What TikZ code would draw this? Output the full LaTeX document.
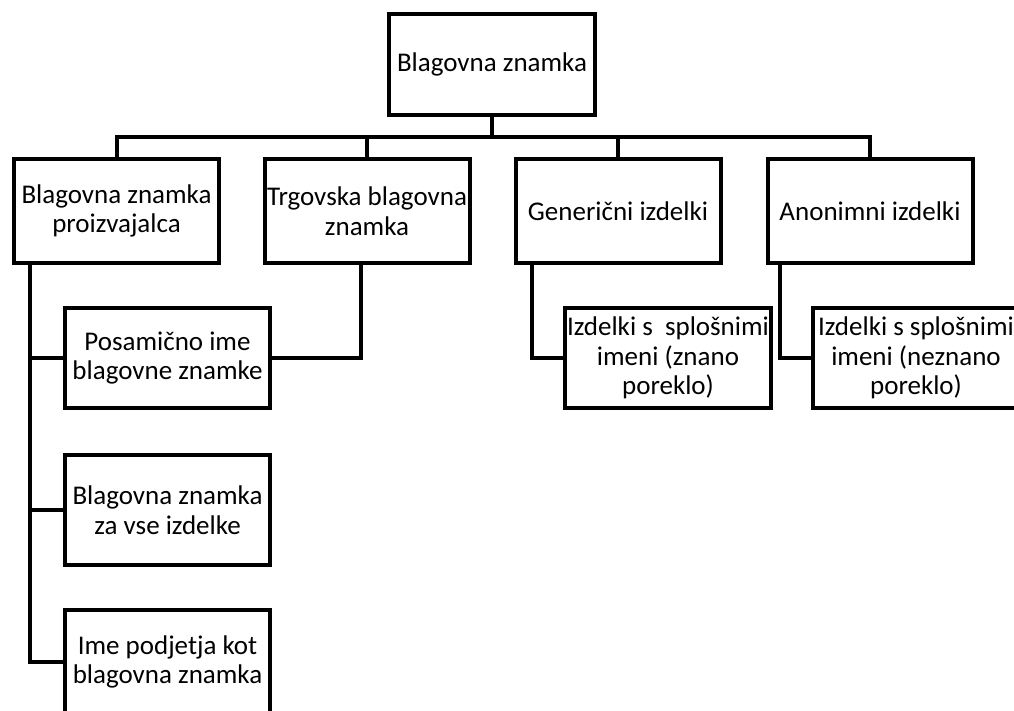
\documentclass[tikz,border=0pt]{standalone}
\usepackage{fontspec}
\setmainfont{Carlito}
\usepackage{tikz}
\usetikzlibrary{positioning, calc}
\tikzset{
  bbox/.style  = {rectangle, draw, line width=2pt, align=center,
                  font=\fontsize{13.5pt}{14.8pt}\selectfont, inner sep=0pt,
                  minimum width=102.5pt, minimum height=52pt},
  conn/.style  = {line width=2pt, line cap=rect},
}

\begin{document}
\begin{tikzpicture}[x=0.5pt, y=-0.5pt]
  \useasboundingbox (0,0) rectangle (1014,711);

  % Layer 1 - root
  \node[bbox, minimum width=103pt, minimum height=50.5pt] (znamka) at (492,64.5)
    {Blagovna znamka};

  % Layer 2 - types
  \node[bbox] (proiz) at (116.5,211) {Blagovna znamka\\proizvajalca};
  \node[bbox] (trgov) at (367,211)   {Trgovska blagovna\\znamka};
  \node[bbox] (gener) at (618,211)   {Generični izdelki};
  \node[bbox] (anon)  at (870,211)   {Anonimni izdelki};

  % Layer 3 - sub-types
  \node[bbox, minimum height=50pt] (posam) at (167.5,358)
    {Posamično ime\\blagovne znamke};
  \node[bbox, minimum height=55pt] (vse)   at (167.5,510)
    {Blagovna znamka\\za vse izdelke};
  \node[bbox] (podj)  at (167.5,662)
    {Ime podjetja kot\\blagovna znamka};
  \node[bbox, minimum width=103pt, minimum height=50pt] (znano) at (668,358)
    {Izdelki s~ splošnimi\\imeni (znano\\poreklo)};
  \node[bbox, minimum width=103pt, minimum height=50pt] (neznano) at (916,358)
    {Izdelki s splošnimi\\imeni (neznano\\poreklo)};

  % connectors
  \coordinate (bar) at (492,137);
  \draw[conn] (znamka.south) -- (bar);
  \foreach \c in {proiz, trgov, gener, anon}
    \draw[conn] (bar) -| (\c.north);

  \coordinate (stem) at ([xshift=9pt]proiz.south west);
  \foreach \c in {posam, vse, podj}
    \draw[conn] (stem) |- (\c.west);
  \draw[conn] ([xshift=-3pt]trgov.south) |- (posam.east);
  \draw[conn] ([xshift=9pt]gener.south west) |- (znano.west);
  \draw[conn] ([xshift=7pt]anon.south west) |- (neznano.west);
\end{tikzpicture}
\end{document}
